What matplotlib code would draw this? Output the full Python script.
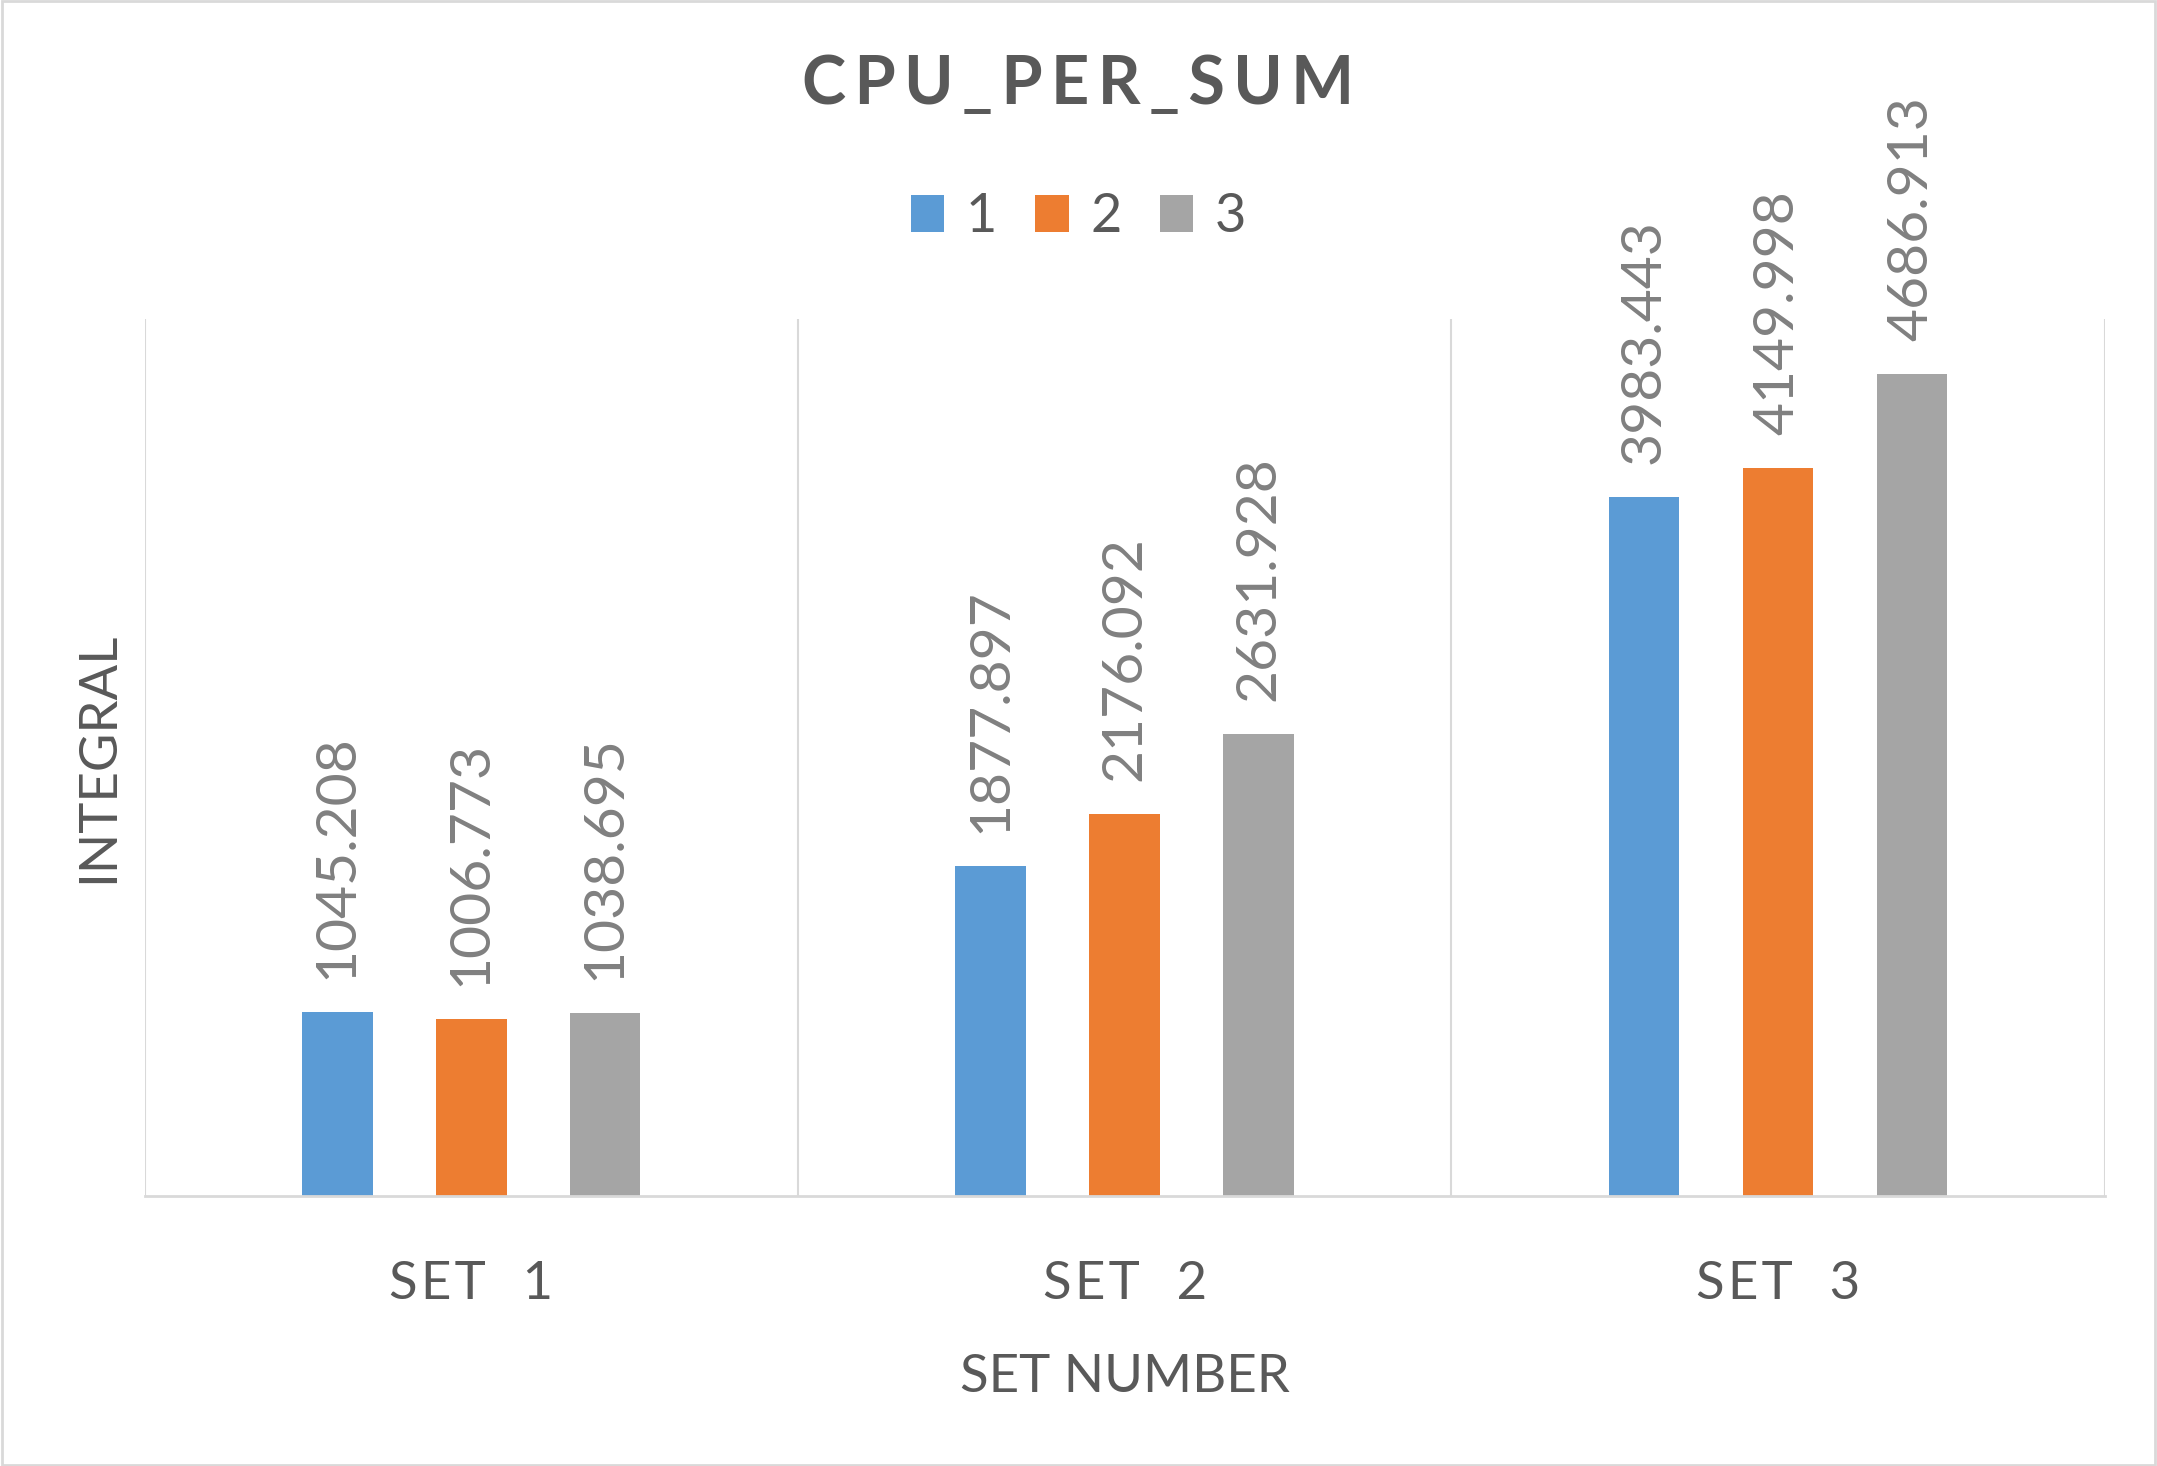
import matplotlib
matplotlib.use("Agg")
import matplotlib.pyplot as plt
import numpy as np
from matplotlib.patches import Rectangle

# data
CATEGORIES = ["SET  1", "SET  2", "SET  3"]
SERIES = ["1", "2", "3"]
RUN_1 = [1045.208, 1877.897, 3983.443]
RUN_2 = [1006.773, 2176.092, 4149.998]
RUN_3 = [1038.695, 2631.928, 4686.913]

COLORS = ["#5B9BD5", "#ED7D31", "#A5A5A5"]
TEXT = "#595959"
LABEL = "#808080"
GRID = "#D9D9D9"

plt.rcParams["font.family"] = ["Lato", "DejaVu Sans"]


def spaced(s, sep="\u200a"):
    # Excel draws these with extra letter spacing
    return sep.join(s)


fig = plt.figure(figsize=(21.57, 14.66), dpi=100)
ax = fig.add_axes([0.067, 0.1845, 0.9088, 0.5979])

x = np.arange(len(CATEGORIES))
step, width = 0.205, 0.108
for i, (vals, name, col) in enumerate(zip([RUN_1, RUN_2, RUN_3], SERIES, COLORS)):
    xs = x + (i - 1) * step
    bars = ax.bar(xs, vals, width, color=col, label=name, zorder=3)
    for b, v in zip(bars, vals):
        ax.annotate(f"{v:.3f}", (b.get_x() + b.get_width() / 2, v),
                    xytext=(0, 24), textcoords="offset points",
                    rotation=90, ha="center", va="bottom",
                    fontsize=41, color=LABEL)

ax.set_xlim(-0.5, 2.5)
ax.set_ylim(0, 5000)
ax.set_yticks([])
for b in [-0.5, 0.5, 1.5, 2.5]:
    ax.axvline(b, color=GRID, lw=1.5, zorder=1)
for s in ["top", "left", "right"]:
    ax.spines[s].set_visible(False)
ax.spines["bottom"].set_color(GRID)
ax.spines["bottom"].set_linewidth(2)
ax.spines["bottom"].set_zorder(4)

ax.set_xticks(x)
ax.set_xticklabels([spaced(c) for c in CATEGORIES], fontsize=38, color=TEXT)
ax.tick_params(axis="x", length=0, pad=47)
ax.set_xlabel("SET NUMBER", fontsize=38, color=TEXT, labelpad=33)
ax.set_ylabel("INTEGRAL", fontsize=38, color=TEXT, labelpad=16)

fig.text(0.5, 0.942, spaced("CPU_PER_SUM", "\u2009"), ha="center", va="center",
         fontsize=48, fontweight="bold", color=TEXT)
fig.legend(loc="center", bbox_to_anchor=(0.5, 0.852), ncol=3, frameon=False,
           fontsize=39, labelcolor=TEXT, handlelength=0.62, handleheight=0.68,
           handletextpad=0.4, columnspacing=0.7)

fig.patches.append(Rectangle((0.001, 0.001), 0.998, 0.998, transform=fig.transFigure,
                             fill=False, edgecolor="#D9D9D9", lw=2))

fig.savefig("out.png", dpi=100, facecolor="white")
